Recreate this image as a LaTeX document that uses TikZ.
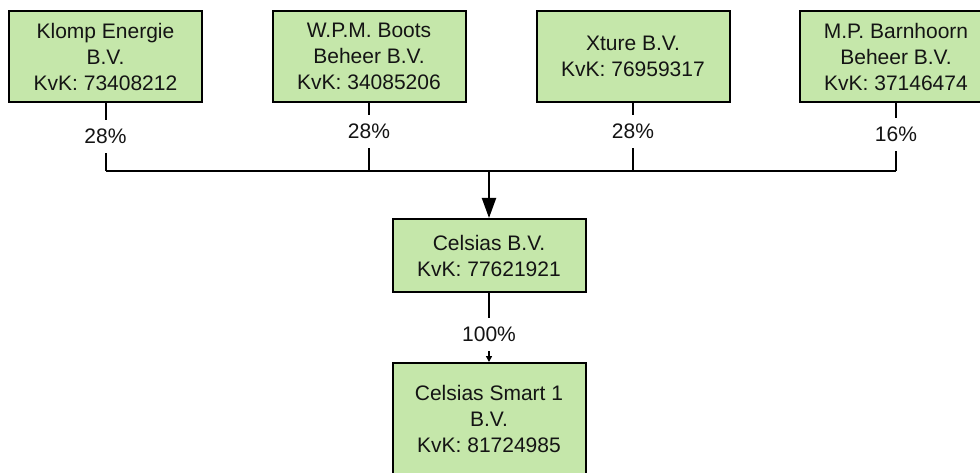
\documentclass[tikz,border=0pt]{standalone}
\usepackage{fontspec}
\setmainfont{Liberation Sans}
\usepackage{xcolor}
\usepackage{tikz}
\usetikzlibrary{arrows.meta}
\definecolor{ink}{HTML}{141414}
\definecolor{leaf}{HTML}{C5E7AA}
\tikzset{
  firm/.style={draw=black, fill=leaf, line width=2pt, minimum width=193pt, inner sep=0pt, align=center, font=\fontsize{21}{26}\selectfont},
  link/.style={draw=black, line width=2pt},
  pct/.style={fill=white, inner xsep=3pt, inner ysep=9pt, font=\fontsize{21}{26}\selectfont},
  every node/.style={text=ink}
}

\begin{document}
\begin{tikzpicture}[x=1pt,y=-1pt]
  \useasboundingbox (0,0) rectangle (980,473);

  \node[firm, minimum height=91pt] (klomp) at (105.5,56.5) {Klomp Energie\\B.V.\\KvK: 73408212};
  \node[firm, minimum height=91pt] (boots) at (369,56.5) {W.P.M. Boots\\Beheer B.V.\\KvK: 34085206};
  \node[firm, minimum height=91pt] (xture) at (633,56.5) {Xture B.V.\\KvK: 76959317};
  \node[firm, minimum height=91pt] (barn) at (896,56.5) {M.P. Barnhoorn\\Beheer B.V.\\KvK: 37146474};

  \coordinate (bus) at (489,171.5);
  \node[firm, minimum height=73pt] (celsias) at (489,255.5) {Celsias B.V.\\KvK: 77621921};
  \node[firm, minimum height=112pt] (smart) at (489,419) {Celsias Smart 1\\B.V.\\KvK: 81724985};

  % shareholders
  \draw[link] (klomp) -- (klomp |- bus) node[pct, pos=0.49] {28\%};
  \draw[link] (boots) -- (boots |- bus) node[pct, pos=0.42] {28\%};
  \draw[link] (xture) -- (xture |- bus) node[pct, pos=0.42] {28\%};
  \draw[link] (barn) -- (barn |- bus) node[pct, pos=0.46] {16\%};
  \draw[link] (klomp |- bus) -- (barn |- bus);
  \draw[link, -{Triangle[length=20pt,width=14pt]}] (bus) -- (celsias);

  \draw[link, line width=1.6pt, -{Triangle[length=6pt,width=6pt]}] (celsias) -- (smart) node[pct, pos=0.6] {100\%};
\end{tikzpicture}
\end{document}
